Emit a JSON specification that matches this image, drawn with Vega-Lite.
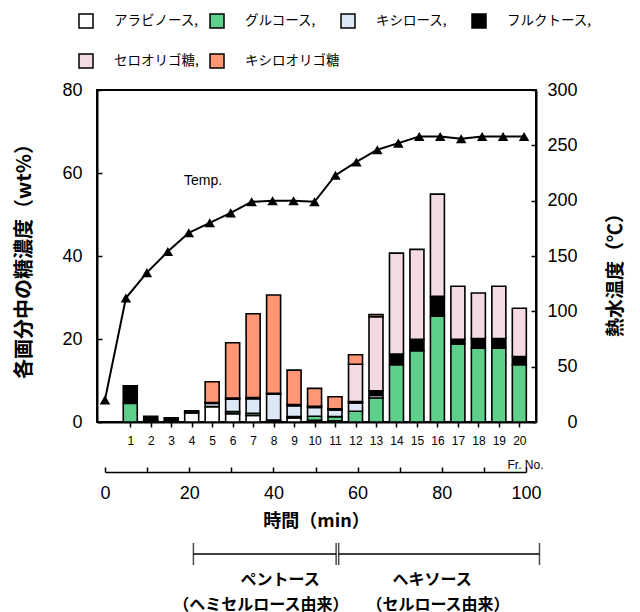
{
  "$schema": "https://vega.github.io/schema/vega-lite/v6.json",
  "width": 439,
  "height": 332,
  "autosize": {"type": "none"},
  "padding": {"left": 97, "top": 90, "right": 104, "bottom": 190},
  "background": "white",
  "config": {
    "view": {"stroke": "black", "strokeWidth": 2},
    "font": "Liberation Sans",
    "axis": {"labelColor": "black", "titleColor": "black", "tickColor": "black", "domainColor": "black", "grid": false, "labelFont": "Liberation Sans"}
  },
  "datasets": {
    "sugarOrder": [
      {"sugar": "アラビノース", "k": 1}, {"sugar": "グルコース", "k": 2}, {"sugar": "キシロース", "k": 3},
      {"sugar": "フルクトース", "k": 4}, {"sugar": "セロオリゴ糖", "k": 5}, {"sugar": "キシロオリゴ糖", "k": 6}
    ],
    "sugars": [
      {"fr": 1, "sugar": "グルコース", "v": 4.5}, {"fr": 1, "sugar": "フルクトース", "v": 4.2},
      {"fr": 2, "sugar": "グルコース", "v": 0.4}, {"fr": 2, "sugar": "フルクトース", "v": 1.0},
      {"fr": 3, "sugar": "グルコース", "v": 0.2}, {"fr": 3, "sugar": "フルクトース", "v": 0.8},
      {"fr": 4, "sugar": "アラビノース", "v": 2.2}, {"fr": 4, "sugar": "フルクトース", "v": 0.5},
      {"fr": 5, "sugar": "アラビノース", "v": 3.7}, {"fr": 5, "sugar": "キシロース", "v": 0.8}, {"fr": 5, "sugar": "フルクトース", "v": 0.2}, {"fr": 5, "sugar": "キシロオリゴ糖", "v": 5.0},
      {"fr": 6, "sugar": "アラビノース", "v": 2.0}, {"fr": 6, "sugar": "グルコース", "v": 0.5}, {"fr": 6, "sugar": "キシロース", "v": 3.0}, {"fr": 6, "sugar": "フルクトース", "v": 0.3}, {"fr": 6, "sugar": "キシロオリゴ糖", "v": 13.3},
      {"fr": 7, "sugar": "アラビノース", "v": 1.6}, {"fr": 7, "sugar": "グルコース", "v": 0.5}, {"fr": 7, "sugar": "キシロース", "v": 3.5}, {"fr": 7, "sugar": "フルクトース", "v": 0.3}, {"fr": 7, "sugar": "キシロオリゴ糖", "v": 20.2},
      {"fr": 8, "sugar": "アラビノース", "v": 0.2}, {"fr": 8, "sugar": "グルコース", "v": 0.3}, {"fr": 8, "sugar": "キシロース", "v": 6.2}, {"fr": 8, "sugar": "フルクトース", "v": 0.2}, {"fr": 8, "sugar": "キシロオリゴ糖", "v": 23.7},
      {"fr": 9, "sugar": "アラビノース", "v": 1.0}, {"fr": 9, "sugar": "グルコース", "v": 0.3}, {"fr": 9, "sugar": "キシロース", "v": 2.6}, {"fr": 9, "sugar": "フルクトース", "v": 0.3}, {"fr": 9, "sugar": "キシロオリゴ糖", "v": 8.3},
      {"fr": 10, "sugar": "アラビノース", "v": 0.4}, {"fr": 10, "sugar": "グルコース", "v": 1.0}, {"fr": 10, "sugar": "キシロース", "v": 2.1}, {"fr": 10, "sugar": "フルクトース", "v": 0.3}, {"fr": 10, "sugar": "キシロオリゴ糖", "v": 4.3},
      {"fr": 11, "sugar": "アラビノース", "v": 0.3}, {"fr": 11, "sugar": "グルコース", "v": 1.0}, {"fr": 11, "sugar": "キシロース", "v": 1.6}, {"fr": 11, "sugar": "フルクトース", "v": 0.3}, {"fr": 11, "sugar": "キシロオリゴ糖", "v": 2.9},
      {"fr": 12, "sugar": "グルコース", "v": 2.6}, {"fr": 12, "sugar": "キシロース", "v": 2.0}, {"fr": 12, "sugar": "フルクトース", "v": 0.3}, {"fr": 12, "sugar": "セロオリゴ糖", "v": 9.0}, {"fr": 12, "sugar": "キシロオリゴ糖", "v": 2.3},
      {"fr": 13, "sugar": "グルコース", "v": 5.8}, {"fr": 13, "sugar": "キシロース", "v": 0.6}, {"fr": 13, "sugar": "フルクトース", "v": 1.1}, {"fr": 13, "sugar": "セロオリゴ糖", "v": 17.9}, {"fr": 13, "sugar": "キシロオリゴ糖", "v": 0.5},
      {"fr": 14, "sugar": "グルコース", "v": 13.8}, {"fr": 14, "sugar": "フルクトース", "v": 2.6}, {"fr": 14, "sugar": "セロオリゴ糖", "v": 24.3},
      {"fr": 15, "sugar": "グルコース", "v": 17.2}, {"fr": 15, "sugar": "フルクトース", "v": 2.7}, {"fr": 15, "sugar": "セロオリゴ糖", "v": 21.7},
      {"fr": 16, "sugar": "グルコース", "v": 25.5}, {"fr": 16, "sugar": "フルクトース", "v": 4.8}, {"fr": 16, "sugar": "セロオリゴ糖", "v": 24.6},
      {"fr": 17, "sugar": "グルコース", "v": 18.8}, {"fr": 17, "sugar": "フルクトース", "v": 1.1}, {"fr": 17, "sugar": "セロオリゴ糖", "v": 12.8},
      {"fr": 18, "sugar": "グルコース", "v": 17.8}, {"fr": 18, "sugar": "フルクトース", "v": 2.3}, {"fr": 18, "sugar": "セロオリゴ糖", "v": 11.0},
      {"fr": 19, "sugar": "グルコース", "v": 17.8}, {"fr": 19, "sugar": "フルクトース", "v": 2.3}, {"fr": 19, "sugar": "セロオリゴ糖", "v": 12.6},
      {"fr": 20, "sugar": "グルコース", "v": 13.8}, {"fr": 20, "sugar": "フルクトース", "v": 2.0}, {"fr": 20, "sugar": "セロオリゴ糖", "v": 11.6}
    ],
    "temp": [
      {"fr": 0, "temp": 20}, {"fr": 1, "temp": 112}, {"fr": 2, "temp": 135}, {"fr": 3, "temp": 154},
      {"fr": 4, "temp": 171}, {"fr": 5, "temp": 180}, {"fr": 6, "temp": 189}, {"fr": 7, "temp": 199},
      {"fr": 8, "temp": 200}, {"fr": 9, "temp": 200}, {"fr": 10, "temp": 199}, {"fr": 11, "temp": 223},
      {"fr": 12, "temp": 235}, {"fr": 13, "temp": 246}, {"fr": 14, "temp": 252}, {"fr": 15, "temp": 258},
      {"fr": 16, "temp": 258}, {"fr": 17, "temp": 256}, {"fr": 18, "temp": 258}, {"fr": 19, "temp": 258},
      {"fr": 20, "temp": 258}
    ],
    "templabel": [{"fr": 4.68, "temp": 218, "label": "Temp."}],
    "spans": [
      {"t0": 21, "t1": 54.9, "row": "bracket"},
      {"t0": 55.5, "t1": 103.2, "row": "bracket"}
    ],
    "ends": [
      {"t": 21, "row": "bracket"}, {"t": 54.9, "row": "bracket"},
      {"t": 55.5, "row": "bracket"}, {"t": 103.2, "row": "bracket"}
    ],
    "phases": [
      {"t": 41.6, "row": "line1", "text": "ペントース"},
      {"t": 37.0, "row": "line2", "text": "（ヘミセルロース由来）"},
      {"t": 77.7, "row": "line1", "text": "ヘキソース"},
      {"t": 79.1, "row": "line2", "text": "（セルロース由来）"}
    ]
  },
  "layer": [
    {
      "data": {"name": "sugars"},
      "transform": [
        {"lookup": "sugar", "from": {"data": {"name": "sugarOrder"}, "key": "sugar", "fields": ["k"]}}
      ],
      "mark": {"type": "bar", "size": 14, "stroke": "black", "strokeWidth": 1.6},
      "encoding": {
        "x": {
          "field": "fr", "type": "quantitative",
          "scale": {"domain": [-0.38, 20.57], "nice": false, "zero": false},
          "axis": {
            "orient": "bottom", "values": [1,2,3,4,5,6,7,8,9,10,11,12,13,14,15,16,17,18,19,20],
            "tickSize": 5, "tickWidth": 1.5, "domainWidth": 2, "labelFontSize": 12, "labelPadding": 8,
            "labelFlush": false, "labelOverlap": false,
            "title": "Fr. No.", "titleFontSize": 12, "titleFontWeight": "normal",
            "titleX": 446, "titleY": 42, "titleAlign": "right", "titleBaseline": "middle"
          }
        },
        "y": {
          "field": "v", "type": "quantitative", "stack": "zero",
          "scale": {"domain": [0, 80], "nice": false},
          "axis": {
            "orient": "left", "values": [0, 20, 40, 60, 80], "tickSize": -5, "tickWidth": 1.5, "domainWidth": 2,
            "labelFontSize": 18, "labelPadding": 20, "labelFlush": false,
            "title": "各画分中の糖濃度（wt%）", "titleFont": "Noto Sans CJK JP", "titleFontSize": 20,
            "titleFontWeight": "bold", "titleAngle": 270, "titleX": -73, "titleY": 166,
            "titleAlign": "center", "titleBaseline": "middle"
          }
        },
        "order": {"field": "k", "type": "quantitative", "sort": "ascending"},
        "color": {
          "field": "sugar", "type": "nominal",
          "scale": {
            "domain": ["アラビノース", "グルコース", "キシロース", "フルクトース", "セロオリゴ糖", "キシロオリゴ糖"],
            "range": ["#ffffff", "#5fcf8c", "#dde8f7", "#000000", "#f3dae5", "#ff9676"]
          },
          "legend": {
            "orient": "none", "legendX": -19, "legendY": -77, "direction": "horizontal", "columns": 4,
            "title": null, "symbolType": "square", "symbolSize": 196, "symbolStrokeColor": "black",
            "symbolStrokeWidth": 1.5, "symbolOpacity": 1, "labelFont": "Noto Sans CJK JP", "labelFontSize": 13.5,
            "labelColor": "black", "labelOffset": 20, "columnPadding": -2, "rowPadding": 20, "gridAlign": "all",
            "labelExpr": "datum.label == 'キシロオリゴ糖' ? datum.label : datum.label + ','"
          }
        }
      }
    },
    {
      "data": {"name": "temp"},
      "mark": {"type": "line", "color": "black", "strokeWidth": 2,
               "point": {"shape": "triangle-up", "filled": true, "size": 110, "color": "black"}},
      "encoding": {
        "x": {"field": "fr", "type": "quantitative", "scale": {"domain": [-0.38, 20.57], "nice": false, "zero": false}, "axis": null},
        "y": {
          "field": "temp", "type": "quantitative", "scale": {"domain": [0, 300], "nice": false},
          "axis": {
            "orient": "right", "values": [0, 50, 100, 150, 200, 250, 300], "tickSize": -5, "tickWidth": 1.5,
            "domainWidth": 2, "labelFontSize": 18, "labelAlign": "right", "labelPadding": 46, "labelFlush": false,
            "encode": {"labels": {"update": {"align": {"value": "right"}}}},
            "title": "熱水温度（℃）", "titleFont": "Noto Sans CJK JP", "titleFontSize": 19, "titleFontWeight": "bold",
            "titleAngle": 270, "titleX": 79, "titleY": 180, "titleAlign": "center", "titleBaseline": "middle"
          }
        }
      }
    },
    {
      "data": {"name": "templabel"},
      "mark": {"type": "text", "fontSize": 14, "font": "Liberation Sans", "align": "center", "baseline": "middle", "color": "black"},
      "encoding": {
        "x": {"field": "fr", "type": "quantitative", "scale": {"domain": [-0.38, 20.57], "nice": false, "zero": false}, "axis": null},
        "y": {"field": "temp", "type": "quantitative", "scale": {"domain": [0, 300], "nice": false}, "axis": null},
        "text": {"field": "label"}
      }
    },
    {
      "data": {"name": "spans"},
      "mark": {"type": "rule", "color": "black", "strokeWidth": 1.5},
      "encoding": {
        "x": {
          "field": "t0", "type": "quantitative", "scale": {"domain": [0, 100], "range": [8, 429], "nice": false, "zero": false},
          "axis": {
            "orient": "bottom", "offset": 50, "values": [0,10,20,30,40,50,60,70,80,90,100],
            "labelExpr": "datum.value % 20 === 0 ? datum.label : ''", "labelOverlap": false, "labelFlush": false,
            "tickSize": -5, "tickWidth": 1.5, "domainWidth": 1.5, "labelFontSize": 18, "labelPadding": 17,
            "title": "時間（min）", "titleFont": "Noto Sans CJK JP", "titleFontSize": 18, "titleFontWeight": "bold",
            "titleX": 219, "titleY": 49, "titleAlign": "center", "titleBaseline": "middle"
          }
        },
        "x2": {"field": "t1"},
        "y": {"field": "row", "type": "ordinal", "scale": {"type": "point", "domain": ["bracket", "line1", "line2"], "range": [464, 515], "padding": 0}, "axis": null}
      }
    },
    {
      "data": {"name": "ends"},
      "mark": {"type": "tick", "color": "black", "size": 22, "thickness": 1.5, "orient": "vertical"},
      "encoding": {
        "x": {"field": "t", "type": "quantitative", "scale": {"domain": [0, 100], "range": [8, 429], "nice": false, "zero": false}, "axis": null},
        "y": {"field": "row", "type": "ordinal", "scale": {"type": "point", "domain": ["bracket", "line1", "line2"], "range": [464, 515], "padding": 0}, "axis": null}
      }
    },
    {
      "data": {"name": "phases"},
      "mark": {"type": "text", "font": "Noto Sans CJK JP", "fontSize": 16, "fontWeight": "bold", "align": "center", "baseline": "middle", "color": "black"},
      "encoding": {
        "x": {"field": "t", "type": "quantitative", "scale": {"domain": [0, 100], "range": [8, 429], "nice": false, "zero": false}, "axis": null},
        "y": {"field": "row", "type": "ordinal", "scale": {"type": "point", "domain": ["bracket", "line1", "line2"], "range": [464, 515], "padding": 0}, "axis": null},
        "text": {"field": "text"}
      }
    }
  ],
  "resolve": {
    "scale": {"x": "independent", "y": "independent"},
    "axis": {"x": "independent", "y": "independent"}
  }
}
